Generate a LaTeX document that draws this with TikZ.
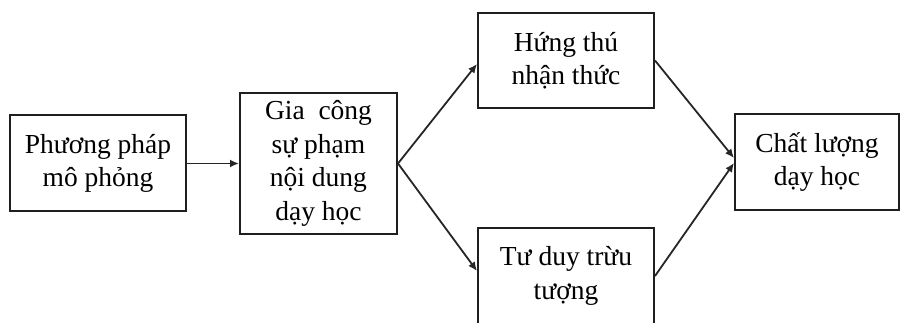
\documentclass[tikz,border=0pt]{standalone}
\usepackage{fontspec}
\setmainfont{Liberation Serif}
\usetikzlibrary{arrows.meta}
\begin{document}
\begin{tikzpicture}[x=1pt,y=-1pt,
  box/.style={draw=black!88,line width=2pt,rectangle,inner sep=0pt,align=center,
    font=\fontsize{27.5}{33.5}\selectfont,text=black},
  conn/.style={draw=black!85,line width=1.8pt,-{Latex[length=9pt,width=8pt]}}]
\useasboundingbox (0,0) rectangle (900,323);
\clip (0,0) rectangle (900,323);
\fill[white] (0,0) rectangle (900,323);
\node[box,minimum width=176pt,minimum height=96pt] (b1) at (98,163.5) {Phương pháp\\mô phỏng};
\node[box,minimum width=157pt,minimum height=141pt] (b2) at (318.5,163.5) {Gia\ \ công\\sự phạm\\nội dung\\dạy học};
\node[box,minimum width=176pt,minimum height=95pt] (b3) at (566,60.5) {Hứng thú\\nhận thức};
\node[box,minimum width=176pt,minimum height=96pt] (b4) at (566,276) {Tư duy trừu\\tượng};
\node[box,minimum width=164pt,minimum height=96pt] (b5) at (817,162) {Chất lượng\\dạy học};
\draw[conn] (b1.east) -- (b2.west);
\draw[conn] (b2.east) -- ([yshift=-3.5pt]b3.west);
\draw[conn] (b2.east) -- ([yshift=5pt]b4.west);
\draw[conn] (b3.east) -- ([yshift=4pt]b5.west);
\draw[conn] (b4.east) -- ([yshift=-1pt]b5.west);
\end{tikzpicture}
\end{document}
